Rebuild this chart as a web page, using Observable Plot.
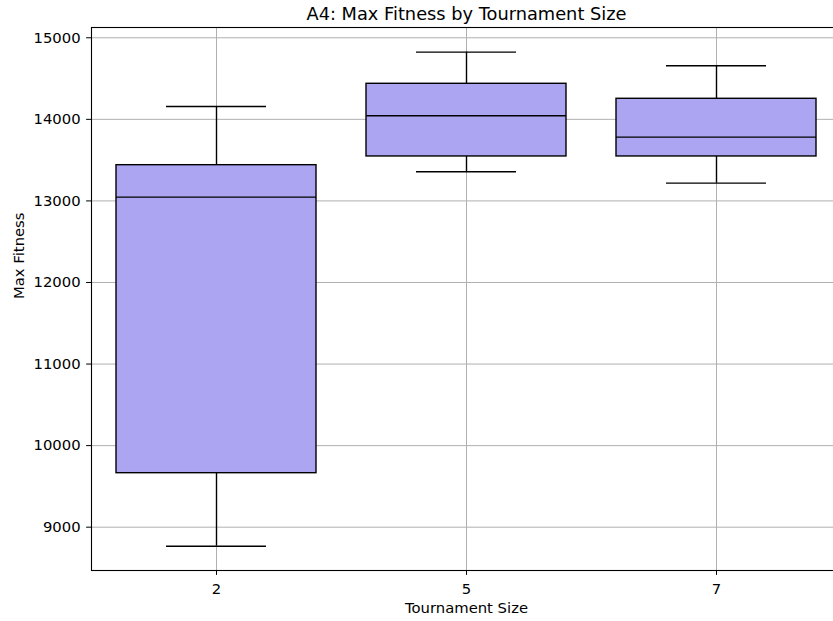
<!DOCTYPE html>
<html>
<head>
<meta charset="utf-8">
<script src="https://cdn.jsdelivr.net/npm/d3@7"></script>
<script src="https://cdn.jsdelivr.net/npm/@observablehq/plot@0.6"></script>
<style>
  html, body { margin: 0; padding: 0; background: white; }
  #chart svg { display: block; overflow: hidden; }
</style>
</head>
<body>
<div id="chart"></div>
<script>
// Box-plot summaries of max fitness for each tournament size
const sizes = ["2", "5", "7"];
const whiskerLow = [8767, 13357, 13218];
const q1 = [9662, 13545, 13545];
const median = [13046, 14044, 13782];
const q3 = [13438, 14436, 14252];
const whiskerHigh = [14158, 14824, 14657];

const yTicks = [9000, 10000, 11000, 12000, 13000, 14000, 15000];

const rows = sizes.map((s, i) => ({
  size: s,
  lo: whiskerLow[i],
  q1: q1[i],
  med: median[i],
  q3: q3[i],
  hi: whiskerHigh[i]
}));

const font = "DejaVu Sans, sans-serif";
const grid = "#b0b0b0";
const boxFill = "#aca6f2";
const tickFont = 14.8;

const chart = Plot.plot({
  width: 833,
  height: 621,
  marginLeft: 91,
  marginRight: -8,
  marginTop: 27,
  marginBottom: 51,
  style: { fontFamily: font, fontSize: "14.8px", color: "black", background: "white" },
  x: { type: "band", domain: sizes, paddingInner: 0.2, paddingOuter: 0.1, align: 0.5, axis: null },
  y: { domain: [8469, 15126], axis: null },
  marks: [
    Plot.gridY(yTicks, { stroke: grid, strokeOpacity: 1, strokeWidth: 1 }),
    Plot.gridX(sizes, { stroke: grid, strokeOpacity: 1, strokeWidth: 1 }),
    // whiskers
    Plot.ruleX(rows, { x: "size", y1: "lo", y2: "q1", stroke: "black", strokeWidth: 1.4 }),
    Plot.ruleX(rows, { x: "size", y1: "q3", y2: "hi", stroke: "black", strokeWidth: 1.4 }),
    // whisker caps
    Plot.tickY(rows, { x: "size", y: "lo", insetLeft: 50, insetRight: 50, stroke: "black", strokeWidth: 1.4 }),
    Plot.tickY(rows, { x: "size", y: "hi", insetLeft: 50, insetRight: 50, stroke: "black", strokeWidth: 1.4 }),
    // boxes
    Plot.barY(rows, { x: "size", y1: "q1", y2: "q3", fill: boxFill, stroke: "black", strokeWidth: 1.4 }),
    // medians
    Plot.tickY(rows, { x: "size", y: "med", stroke: "black", strokeWidth: 1.4 }),
    Plot.frame({ stroke: "black", strokeWidth: 1.1 }),
    Plot.axisY(yTicks, { tickSize: 4.9, tickPadding: 6, fontSize: tickFont, tickFormat: "d", label: null, stroke: "black", fill: "black" }),
    Plot.axisX(sizes, { tickSize: 4.9, tickPadding: 8, fontSize: tickFont, label: null, stroke: "black", fill: "black" }),
    // titles
    Plot.text(["A4: Max Fitness by Tournament Size"], { frameAnchor: "top", lineAnchor: "middle", dy: -13.4, fontSize: 17.8, fill: "black" }),
    Plot.text(["Tournament Size"], { frameAnchor: "bottom", lineAnchor: "middle", dy: 38, fontSize: tickFont, fill: "black" }),
    Plot.text(["Max Fitness"], { frameAnchor: "left", dx: -72, rotate: -90, fontSize: tickFont, fill: "black" })
  ]
});

document.getElementById("chart").appendChild(chart);
</script>
</body>
</html>
